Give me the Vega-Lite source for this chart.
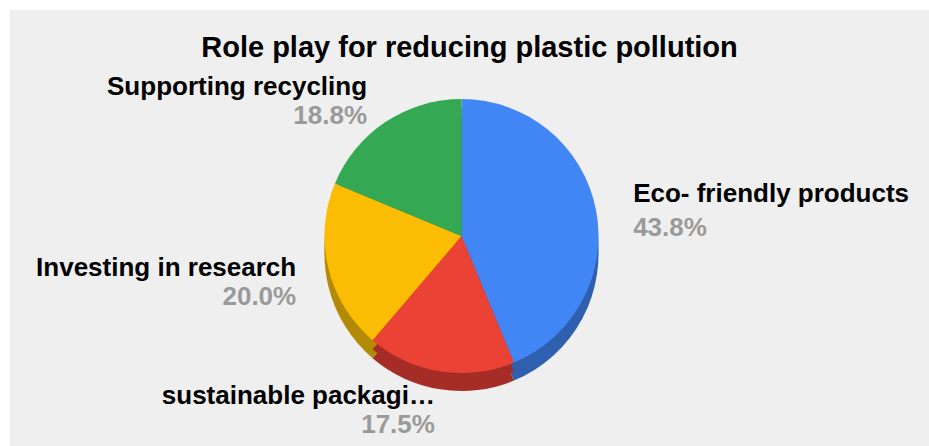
{
  "$schema": "https://vega.github.io/schema/vega-lite/v6.json",
  "width": 919,
  "height": 436,
  "autosize": {"type": "none"},
  "padding": {"left": 10, "top": 10, "right": 0, "bottom": 0},
  "background": "#ffffff",
  "view": {"fill": "#efefef", "stroke": null},
  "config": {
    "font": "Liberation Sans"
  },
  "title": {
    "text": "Role play for reducing plastic pollution",
    "fontSize": 29,
    "fontWeight": "bold",
    "color": "#000000",
    "font": "Liberation Sans",
    "anchor": "middle",
    "offset": -53
  },
  "data": {
    "values": [
      {"category": "Eco- friendly products", "share": 0.4375, "rank": 1},
      {"category": "sustainable packagi…", "share": 0.175, "rank": 2},
      {"category": "Investing in research", "share": 0.2, "rank": 3},
      {"category": "Supporting recycling", "share": 0.1875, "rank": 4}
    ]
  },
  "encoding": {
    "theta": {"field": "share", "type": "quantitative", "stack": true},
    "order": {"field": "rank", "type": "quantitative"}
  },
  "layer": [
    {
      "mark": {"type": "arc", "outerRadius": 137, "xOffset": -8, "yOffset": 26},
      "encoding": {
        "fill": {"field": "category", "type": "nominal", "legend": null,
          "scale": {"domain": ["Eco- friendly products", "sustainable packagi…", "Investing in research", "Supporting recycling"],
                    "range": ["#2f60b0", "#a62d25", "#b38a06", "#23773a"]}}
      }
    },
    {
      "mark": {"type": "arc", "outerRadius": 137, "xOffset": -8, "yOffset": 17},
      "encoding": {
        "fill": {"field": "category", "type": "nominal", "legend": null,
          "scale": {"domain": ["Eco- friendly products", "sustainable packagi…", "Investing in research", "Supporting recycling"],
                    "range": ["#2f60b0", "#a62d25", "#b38a06", "#23773a"]}}
      }
    },
    {
      "mark": {"type": "arc", "outerRadius": 137, "xOffset": -8, "yOffset": 8},
      "encoding": {
        "color": {"field": "category", "type": "nominal", "legend": null,
          "scale": {"domain": ["Eco- friendly products", "sustainable packagi…", "Investing in research", "Supporting recycling"],
                    "range": ["#4285f4", "#ea4335", "#fbbc04", "#34a853"]}}
      }
    },
    {
      "mark": {"type": "text", "radius": 175, "xOffset": -8, "yOffset": 8, "align": "left", "baseline": "alphabetic",
               "fontSize": 26, "fontWeight": "bold", "color": "#000000"},
      "encoding": {
        "text": {"condition": {"test": "datum.share_start + datum.share_end < 1", "field": "category", "type": "nominal"}, "value": ""}
      }
    },
    {
      "mark": {"type": "text", "radius": 175, "xOffset": -8, "yOffset": 8, "align": "left", "baseline": "alphabetic", "dy": 34,
               "fontSize": 26, "fontWeight": "bold", "color": "#9a9a9a"},
      "encoding": {
        "text": {"condition": {"test": "datum.share_start + datum.share_end < 1", "field": "share", "type": "quantitative", "format": ".1%"}, "value": ""}
      }
    },
    {
      "mark": {"type": "text", "radius": 170, "xOffset": -8, "yOffset": 8, "align": "right", "baseline": "alphabetic",
               "fontSize": 26, "fontWeight": "bold", "color": "#000000"},
      "encoding": {
        "text": {"condition": {"test": "datum.share_start + datum.share_end >= 1", "field": "category", "type": "nominal"}, "value": ""}
      }
    },
    {
      "mark": {"type": "text", "radius": 170, "xOffset": -8, "yOffset": 8, "align": "right", "baseline": "alphabetic", "dy": 29,
               "fontSize": 26, "fontWeight": "bold", "color": "#9a9a9a"},
      "encoding": {
        "text": {"condition": {"test": "datum.share_start + datum.share_end >= 1", "field": "share", "type": "quantitative", "format": ".1%"}, "value": ""}
      }
    }
  ]
}
